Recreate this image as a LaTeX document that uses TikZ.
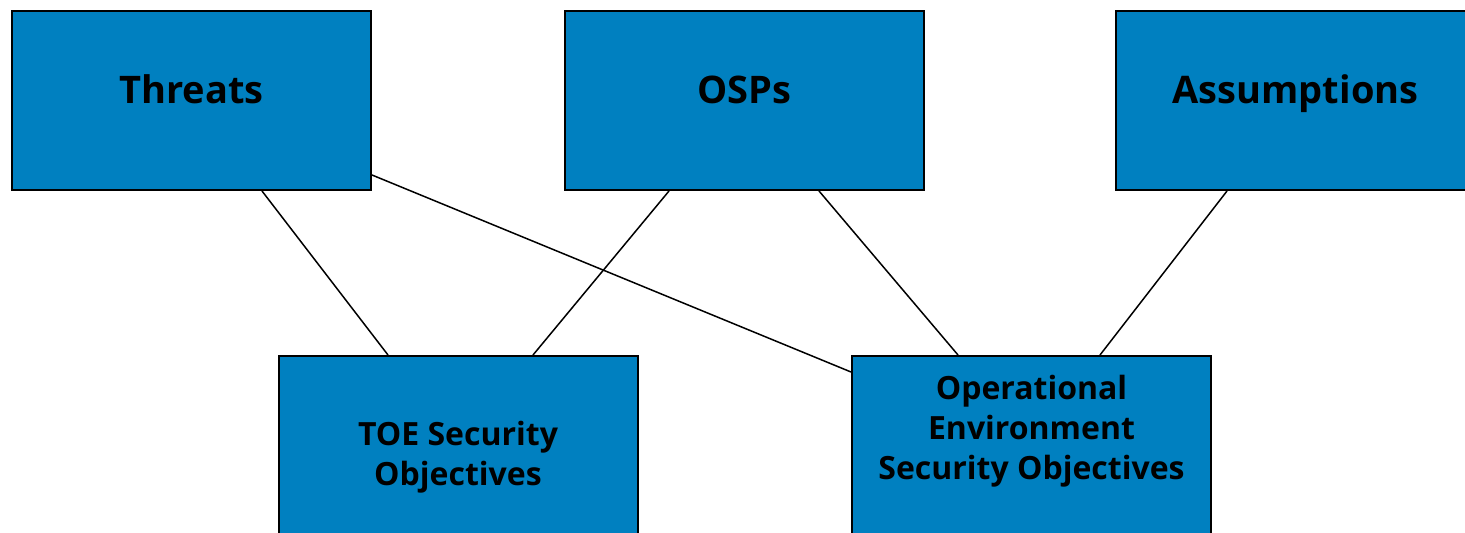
\documentclass[tikz,border=0pt]{standalone}
\usepackage{fontspec}
\setmainfont{Open Sans}
\usetikzlibrary{calc}
\definecolor{boxblue}{HTML}{0080C0}
\tikzset{
  box/.style={draw=black, line width=1pt, fill=boxblue, rectangle,
    minimum width=179.5pt, minimum height=89.5pt, inner sep=0pt},
  lbl/.style={font=\bfseries\fontsize{19}{20}\selectfont, align=center, text=black, inner sep=0pt, anchor=base},
  sublbl/.style={font=\bfseries\fontsize{16}{20}\selectfont, align=center, text=black, inner sep=0pt},
  link/.style={draw=black, line width=0.75pt}
}
\begin{document}
\begin{tikzpicture}[x=0.5pt, y=-0.5pt]
  \useasboundingbox (0,0) rectangle (1465,533);
  \clip (0,0) rectangle (1465,533);
  % upper row
  \node[box] (thr) at (191.5,100.5) {};
  \node[box] (osp) at (744,100.5) {};
  \node[box] (asm) at (1295.5,100.5) {};
  % lower row
  \node[box] (toe) at (458,445.5) {};
  \node[box] (oes) at (1031.5,445.5) {};
  % labels
  \node[lbl] (thrL) at (191.5,104) {Threats};
  \node[lbl] (ospL) at (744,104) {OSPs};
  \node[lbl] (asmL) at (1295.5,104) {Assumptions};
  \node[sublbl] (toeL) at (458,457) {TOE Security\\Objectives};
  \node[sublbl] (oesL) at (1031.5,431) {Operational\\Environment\\Security Objectives};
  % connectors
  \draw[link] ($(thr.south)+(70.5,0)$) -- ($(toe.north)+(-70,0)$);
  \draw[link] ($(thr.east)+(0,74.5)$) -- ($(oes.west)+(0,-73.5)$);
  \draw[link] ($(osp.south)+(-75,0)$) -- ($(toe.north)+(75,0)$);
  \draw[link] ($(osp.south)+(75,0)$) -- ($(oes.north)+(-73.5,0)$);
  \draw[link] ($(asm.south)+(-68.5,0)$) -- ($(oes.north)+(68.5,0)$);
\end{tikzpicture}
\end{document}
